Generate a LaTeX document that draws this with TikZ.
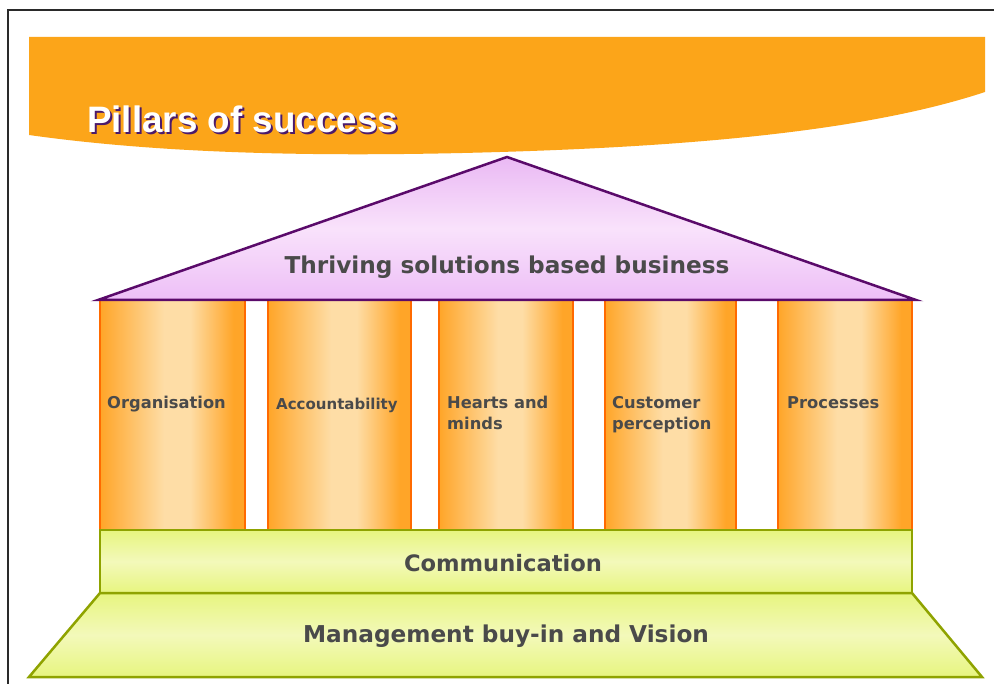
\documentclass[tikz,border=0pt]{standalone}
\usepackage{fontspec}
\newfontfamily\headfont{Liberation Sans}
\newfontfamily\labelfont{DejaVu Sans}

% palette
\definecolor{bannerorange}{HTML}{FCA519}
\definecolor{shadowpurple}{HTML}{4B1A6B}
\definecolor{roofline}{HTML}{5A0A6A}
\definecolor{rooftop}{HTML}{EAB9F4}
\definecolor{roofmid}{HTML}{F9E2FB}
\definecolor{roofbottom}{HTML}{EDBFF7}
\definecolor{pillaredge}{HTML}{FF6A00}
\definecolor{pillardark}{HTML}{FFA528}
\definecolor{pillarlight}{HTML}{FEDDA6}
\definecolor{baseedge}{HTML}{8FA300}
\definecolor{basefill}{HTML}{E7F57F}
\definecolor{baselight}{HTML}{F3F9BA}
\definecolor{inkgray}{HTML}{4A4A4A}
\definecolor{framegray}{HTML}{2A2A2A}

% column colouring: orange edges, pale highlight right of centre
\pgfdeclarehorizontalshading{pillarshade}{100bp}{%
  color(0bp)=(pillardark); color(25bp)=(pillardark);
  color(47bp)=(pillarlight); color(56bp)=(pillarlight);
  color(71bp)=(pillardark); color(100bp)=(pillardark)}

\tikzset{
  titletext/.style={font=\headfont\bfseries\fontsize{36.8}{40}\selectfont, inner sep=0pt, anchor=base west},
  bigtext/.style={font=\labelfont\bfseries\fontsize{23.2}{28}\selectfont, text=inkgray, inner sep=0pt, anchor=base},
  pillartext/.style={font=\labelfont\bfseries\fontsize{16.3}{21}\selectfont, text=inkgray, inner sep=0pt, anchor=base west},
  pillarbox/.style={shading=pillarshade, draw=pillaredge, line width=2pt},
  roofbox/.style={top color=rooftop, bottom color=roofbottom, middle color=roofmid, draw=roofline, line width=2.5pt, line join=miter},
  basebox/.style={top color=basefill, bottom color=basefill, middle color=baselight, draw=baseedge, line width=2.5pt, line join=miter},
}

\begin{document}
\begin{tikzpicture}[x=1pt, y=-1pt]
  \useasboundingbox (0,0) rectangle (994,684);
  \fill[white] (0,0) rectangle (994,684);

  % slide frame
  \draw[framegray, line width=2pt] (8,690) -- (8,10) -- (1000,10);

  % header band
  \fill[bannerorange] (29,37) -- (985,37) -- (985,92)
    .. controls (870,130) and (700,146) .. (500,152)
    .. controls (300,158) and (150,152) .. (29,135) -- cycle;
  \node (titleShadow) [titletext, text=shadowpurple] at (88.8,134.8) {Pillars of success};
  \node (title) [titletext, text=white] at (87,133) {Pillars of success};

  % columns
  \path[pillarbox] (100,300) rectangle (245,530);
  \path[pillarbox] (268,300) rectangle (411,530);
  \path[pillarbox] (439,300) rectangle (573,530);
  \path[pillarbox] (605,300) rectangle (736,530);
  \path[pillarbox] (778,300) rectangle (912,530);

  \node (c1) [pillartext] at (107,409) {Organisation};
  \node (c2) [pillartext, font=\labelfont\bfseries\fontsize{15}{20}\selectfont] at (276,410) {Accountability};
  \node (c3) [pillartext] at (447,409) {\begin{tabular}[t]{@{}l@{}}Hearts and\\minds\end{tabular}};
  \node (c4) [pillartext] at (612,409) {\begin{tabular}[t]{@{}l@{}}Customer\\perception\end{tabular}};
  \node (c5) [pillartext] at (787,409) {Processes};

  % roof
  \coordinate (apex) at (507,157);
  \coordinate (eaveR) at (916,300);
  \coordinate (eaveL) at (98,300);
  \path[roofbox] (apex) -- (eaveR) -- (eaveL) -- cycle;
  \node (roofText) [bigtext] at (507,274) {Thriving solutions based business};

  % communication beam
  \path[basebox] (100,530) rectangle (912,593);
  \node (comm) [bigtext, font=\labelfont\bfseries\fontsize{22.6}{27}\selectfont] at (503,572) {Communication};

  % foundation
  \path[basebox] (100,593) -- (912,593) -- (982,677) -- (29,677) -- cycle;
  \node (found) [bigtext] at (506,642) {Management buy-in and Vision};
\end{tikzpicture}
\end{document}
